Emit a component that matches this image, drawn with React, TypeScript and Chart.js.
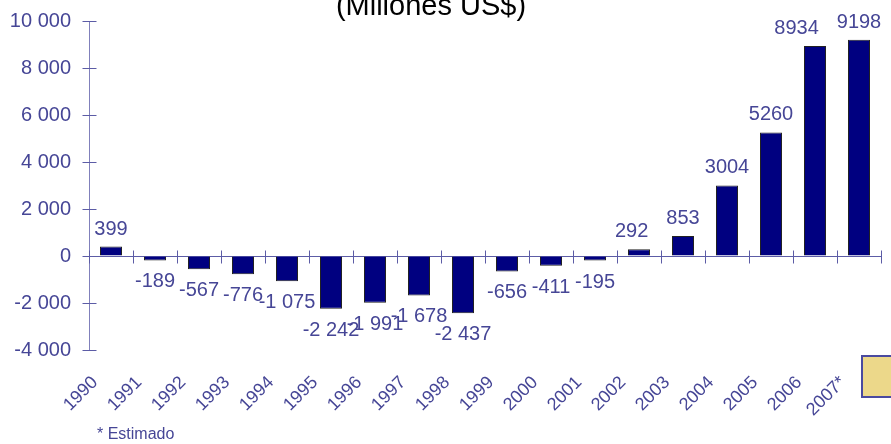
import React, { useEffect, useRef } from 'react';
import { Chart, registerables } from 'chart.js';

Chart.register(...registerables);

const categories = ['1990', '1991', '1992', '1993', '1994', '1995', '1996', '1997', '1998', '1999', '2000', '2001', '2002', '2003', '2004', '2005', '2006', '2007*'];
const values = [399, -189, -567, -776, -1075, -2242, -1991, -1678, -2437, -656, -411, -195, 292, 853, 3004, 5260, 8934, 9198];
const yMin = -4000;
const yMax = 10000;
const yStep = 2000;
const titleText = '(Millones US$)';
const footnote = '* Estimado';

const FONT = "'Liberation Sans', Arial, sans-serif";
const TEXT = '#464696';
const AXIS = '#5c5ca6';

function groupSpace(v: number): string {
  const s = String(Math.abs(Math.round(v)));
  const g = s.replace(/\B(?=(\d{3})+(?!\d))/g, ' ');
  return (v < 0 ? '-' : '') + g;
}

function dataLabel(v: number): string {
  return v < 0 ? groupSpace(v) : String(v);
}

const crossTicks = {
  id: 'crossTicks',
  afterDraw(chart: any) {
    const x = chart.scales.x;
    const y = chart.scales.y;
    const ctx = chart.ctx;
    const area = chart.chartArea;
    ctx.save();
    ctx.strokeStyle = AXIS;
    ctx.lineWidth = 1;
    const y0 = Math.round(y.getPixelForValue(0)) + 0.5;
    const n = x.ticks.length;
    const step = (area.right - area.left) / n;
    ctx.beginPath();
    for (let i = 0; i <= n; i++) {
      const px = Math.round(area.left + i * step) + 0.5;
      ctx.moveTo(px, y0 - 6);
      ctx.lineTo(px, y0 + 7);
    }
    const lx = Math.round(area.left) + 0.5;
    y.ticks.forEach((t: any) => {
      const py = Math.round(y.getPixelForValue(t.value)) + 0.5;
      ctx.moveTo(lx - 7, py);
      ctx.lineTo(lx + 7, py);
    });
    ctx.stroke();
    ctx.restore();
  },
};

const valueLabels = {
  id: 'valueLabels',
  afterDatasetsDraw(chart: any) {
    const ctx = chart.ctx;
    const meta = chart.getDatasetMeta(0);
    ctx.save();
    ctx.font = `20px ${FONT}`;
    ctx.fillStyle = TEXT;
    ctx.textAlign = 'center';
    ctx.textBaseline = 'alphabetic';
    const items = meta.data.map((el: any, i: number) => {
      const v = values[i];
      const { x, y } = el.getProps(['x', 'y'], true);
      const text = dataLabel(v);
      const w = ctx.measureText(text).width;
      return { text, x, y: v >= 0 ? y - 12 : y + 27, w, pos: v >= 0 };
    });
    // keep neighbouring positive labels apart (right-to-left)
    for (let i = items.length - 2; i >= 0; i--) {
      const a = items[i];
      const b = items[i + 1];
      if (a.pos && b.pos && Math.abs(a.y - b.y) < 16) {
        const overlap = a.x + a.w / 2 + 18 - (b.x - b.w / 2);
        if (overlap > 0) a.x -= overlap;
      }
    }
    items.forEach((it: any) => ctx.fillText(it.text, it.x, it.y));
    ctx.restore();
  },
};

export default function App() {
  const canvasRef = useRef<HTMLCanvasElement | null>(null);

  useEffect(() => {
    if (!canvasRef.current) return;
    const chart = new Chart(canvasRef.current, {
      type: 'bar',
      data: {
        labels: categories,
        datasets: [
          {
            data: values,
            backgroundColor: '#000080',
            borderColor: '#222222',
            borderWidth: 1,
            barPercentage: 0.5,
            categoryPercentage: 1,
          },
        ],
      },
      options: {
        animation: false,
        responsive: true,
        maintainAspectRatio: false,
        layout: { padding: { left: 0, right: 10, top: 0, bottom: 0 } },
        plugins: {
          legend: { display: false },
          tooltip: { enabled: false },
          title: {
            display: true,
            text: titleText,
            color: '#000000',
            font: { family: FONT, size: 29, weight: 'normal', lineHeight: 1 },
            padding: { top: 2, bottom: 0 },
          },
        },
        scales: {
          x: {
            position: 'bottom',
            offset: true,
            grid: { display: false },
            border: { display: false },
            ticks: {
              autoSkip: false,
              minRotation: 45,
              maxRotation: 45,
              padding: 14,
              labelOffset: -16,
              color: TEXT,
              font: { family: FONT, size: 18 },
            },
            afterFit: (scale: any) => {
              scale.height = 94;
            },
          },
          y: {
            min: yMin,
            max: yMax,
            ticks: {
              stepSize: yStep,
              padding: 18,
              color: TEXT,
              font: { family: FONT, size: 20 },
              callback: (v: any) => groupSpace(Number(v)),
            },
            grid: {
              drawTicks: false,
              color: (ctx: any) => (ctx.tick && ctx.tick.value === 0 ? AXIS : 'rgba(0,0,0,0)'),
            },
            border: { display: true, color: '#8080bb', width: 1 },
            afterFit: (scale: any) => {
              scale.width = 108;
            },
          },
        },
      },
      plugins: [crossTicks, valueLabels],
    });
    return () => chart.destroy();
  }, []);

  return (
    <div style={{ position: 'fixed', left: 0, top: 0, width: 891, height: 444, overflow: 'hidden', background: '#ffffff' }}>
      <div style={{ position: 'absolute', left: -19, top: -10, width: 910, height: 454 }}>
        <canvas ref={canvasRef} />
      </div>
      <div
        style={{
          position: 'absolute',
          left: 97,
          top: 425,
          fontFamily: FONT,
          fontSize: 16,
          lineHeight: '18px',
          color: TEXT,
          whiteSpace: 'nowrap',
        }}
      >
        {footnote}
      </div>
      <div
        style={{
          position: 'absolute',
          left: 861,
          top: 355,
          width: 40,
          height: 39,
          background: '#ecd88a',
          border: '2px solid #4a4aa0',
        }}
      />
    </div>
  );
}
